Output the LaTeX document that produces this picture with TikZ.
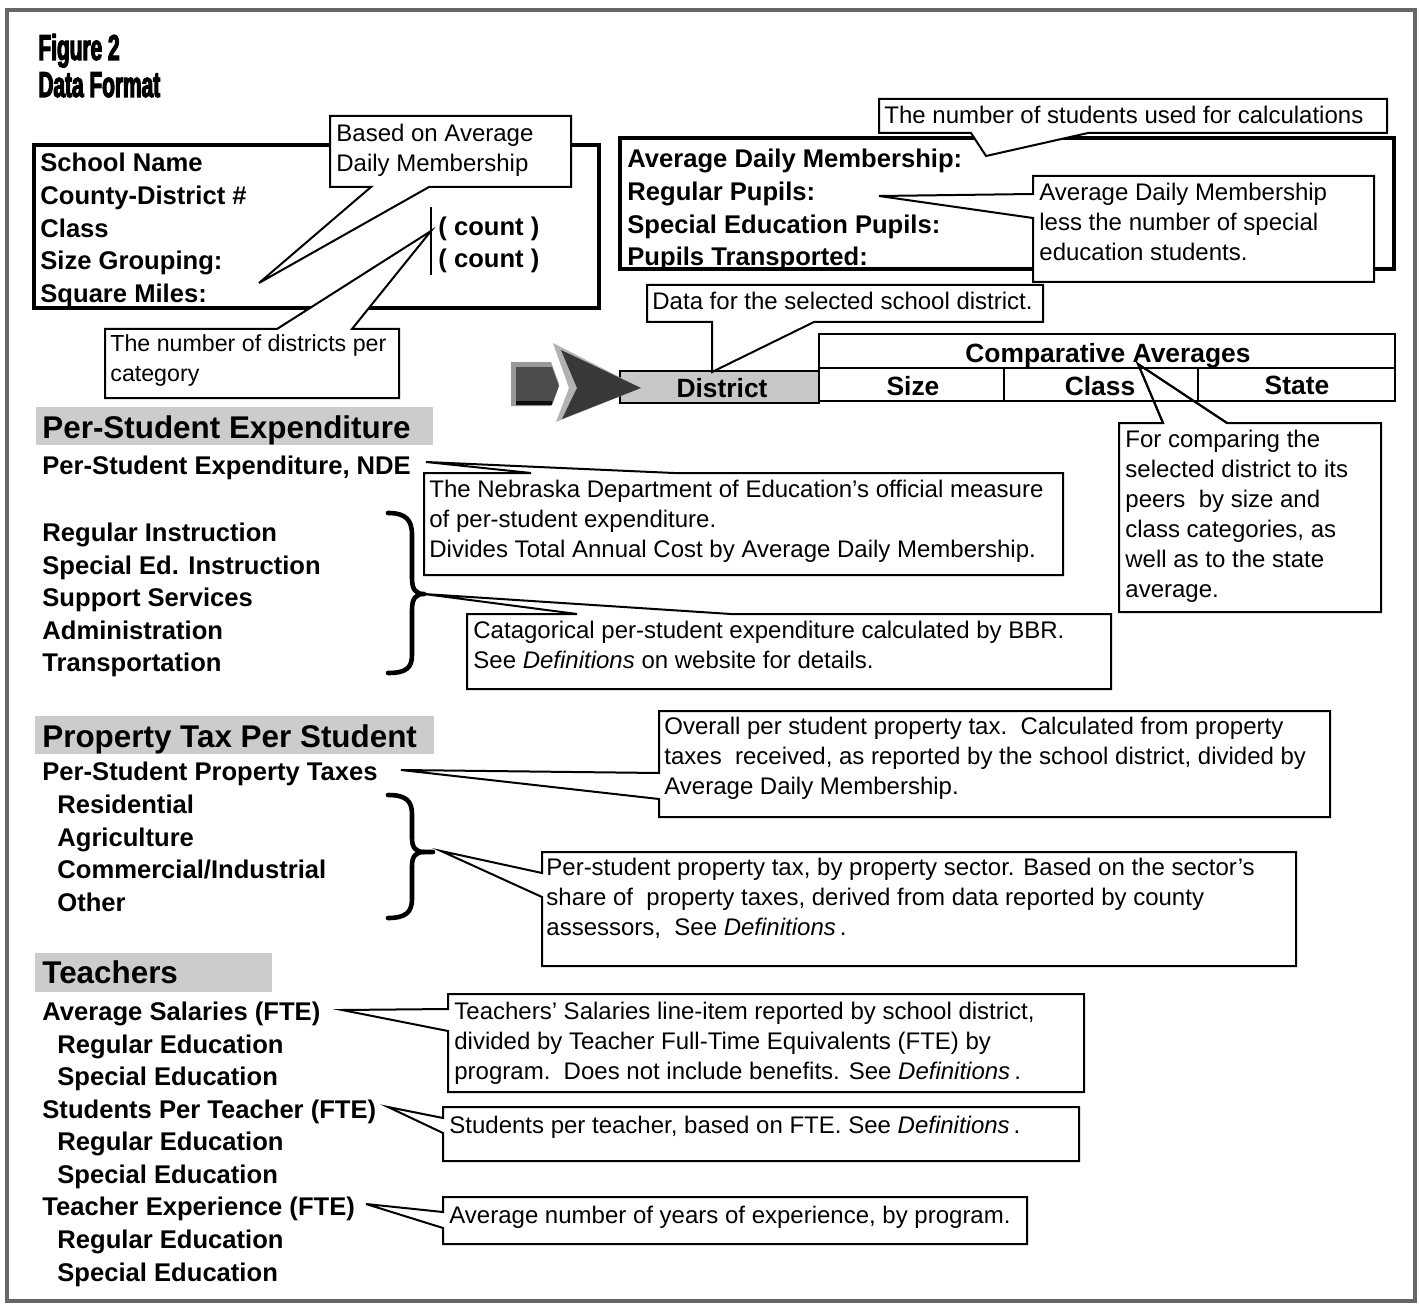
\documentclass[tikz,border=0pt]{standalone}
\usepackage{fontspec}
\setmainfont{Liberation Sans}
\newfontfamily\titlefont[FakeStretch=0.58,FakeBold=3]{Liberation Sans Bold}
\begin{document}
\begin{tikzpicture}[x=0.5pt,y=-0.5pt,
  cbox/.style={draw=black, fill=white, line width=1pt, line join=miter},
  ctext/.style={anchor=north west, inner sep=0pt, align=left, font=\fontsize{12}{15}\selectfont},
  btext/.style={anchor=base west, inner sep=0pt, font=\fontsize{12.8}{16}\selectfont\bfseries},
  ttext/.style={anchor=base, inner sep=0pt, font=\fontsize{13.2}{16}\selectfont\bfseries},
  hband/.style={fill=black!20, draw=none},
  htext/.style={anchor=base west, inner sep=0pt, font=\fontsize{15.7}{18}\selectfont\bfseries},
  ttl/.style={anchor=base west, inner sep=0pt, font=\fontsize{18}{20}\selectfont\titlefont},
  mainbox/.style={draw=black, fill=white, line width=1.9pt},
  grid/.style={draw=black, line width=1pt},
  bracestyle/.style={line width=2.3pt, line cap=round, line join=round}]
\useasboundingbox (0,0) rectangle (1419,1305);
\fill[white] (0,0) rectangle (1419,1305);
% outer frame
\draw[black!60, line width=2pt] (7,10) rectangle (1415,1301);

% title
\node[ttl] (t1) at (38,60) {Figure 2};
\node[ttl] (t2) at (38,97) {Data Format};

% box 1
\draw[mainbox] (34,145) rectangle (599,308);
\node[btext] (b1a) at (40,172) {School Name};
\node[btext] (b1b) at (40,205) {County-District \#};
\node[btext] (b1c) at (40,238) {Class};
\node[btext] (b1d) at (40,270) {Size Grouping:};
\node[btext] (b1e) at (40,303) {Square Miles:};
\node[btext] (cnt1) at (438,236) {( count )};
\node[btext] (cnt2) at (438,268) {( count )};
\coordinate (bar1) at (431,207);
\coordinate (bar2) at (431,275);
\draw[line width=1.1pt] (bar1) -- (bar2);

% box 2
\draw[mainbox] (620,138) rectangle (1394,269);
\node[btext] (b2a) at (627,168) {Average Daily Membership:};
\node[btext] (b2b) at (627,201) {Regular Pupils:};
\node[btext] (b2c) at (627,234) {Special Education Pupils:};
\node[btext] (b2d) at (627,266) {Pupils Transported:};

% callout: Based on Average Daily Membership
\coordinate (tipadm) at (259,283);
\draw[cbox] (330,116) -- (571,116) -- (571,187) -- (429,187) -- (tipadm) -- (371,187) -- (330,187) -- cycle;
\node[ctext] (cadm) at (336,124) {Based on Average\\Daily Membership};

% callout: number of districts per category
\coordinate (tipnd) at (431,231);
\draw[cbox] (105,329) -- (277,329) -- (tipnd) -- (352,329) -- (399,329) -- (399,398) -- (105,398) -- cycle;
\node[ctext, font=\fontsize{11.6}{15}\selectfont] (cnd) at (110,334) {The number of districts per\\category};

% callout: number of students
\coordinate (tipns) at (986,156);
\draw[cbox] (879,99) -- (1387,99) -- (1387,133) -- (1088,133) -- (tipns) -- (971,133) -- (879,133) -- cycle;
\node[ctext] (cns) at (884,106) {The number of students used for calculations};

% callout: ADM less special ed
\coordinate (tipless) at (879,196);
\draw[cbox] (1033,176) -- (1374,176) -- (1374,282) -- (1033,282) -- (1033,218) -- (tipless) -- (1033,194) -- cycle;
\node[ctext] (cless) at (1039,183) {Average Daily Membership\\less the number of special\\education students.};

% callout: comparing
\coordinate (tipcomp) at (1138,364);
\draw[cbox] (1119,423) -- (1163,423) -- (tipcomp) -- (1227,423) -- (1381,423) -- (1381,612) -- (1119,612) -- cycle;
\node[ctext] (ccomp) at (1125,430) {For comparing the\\selected district to its\\peers\ \ by size and\\class categories, as\\well as to the state\\average.};

% table
\fill[black!22] (620,371) rectangle (819,403);
\draw[grid] (620,371) rectangle (819,403);
\draw[grid] (819,334) rectangle (1395,368);
\draw[grid] (819,368) rectangle (1004,401);
\draw[grid] (1004,368) rectangle (1198,401);
\draw[grid] (1198,368) rectangle (1395,401);
\node[ttext] (tdist) at (722,397) {District};
\node[ttext] (tcomp) at (1108,362) {Comparative Averages};
\node[ttext] (tsize) at (913,395) {Size};
\node[ttext] (tclass) at (1100,395) {Class};
\node[ttext] (tstate) at (1297,394) {State};
% comparison pointer lines redrawn over table
\draw[line width=1pt] (1163,423) -- (tipcomp) -- (1227,423);

% chevrons
\fill[black!40] (511,362) -- (551,362) -- (559,384) -- (551,406) -- (511,406) -- cycle;
\fill[black!70] (516,367) -- (552,367) -- (559,386) -- (552,405) -- (516,405) -- cycle;
\fill[black!95] (516,401) -- (552,401) -- (552,405) -- (516,405) -- cycle;
\fill[black!30] (553,343) -- (641,388) -- (556,422) -- (569,388) -- cycle;
\fill[black!78] (561,350) -- (641,388) -- (562,419) -- (577,388) -- cycle;

% callout: data for selected district
\coordinate (tipdist) at (712,372);
\draw[cbox] (647,285) -- (1043,285) -- (1043,322) -- (814,322) -- (tipdist) -- (712,322) -- (647,322) -- cycle;
\node[ctext] (cdist) at (652,292) {Data for the selected school district.};

% ---------- Per-Student Expenditure
\fill[hband] (36,407) rectangle (433,445);
\node[htext] (h1) at (42,438) {Per-Student Expenditure};
\node[btext] (p0) at (42,474) {Per-Student Expenditure, NDE};
\node[btext] (p1) at (42,541) {Regular Instruction};
\node[btext] (p2) at (42,574) {Special Ed. Instruction};
\node[btext] (p3) at (42,606) {Support Services};
\node[btext] (p4) at (42,639) {Administration};
\node[btext] (p5) at (42,671) {Transportation};
\coordinate (br1) at (424,594);
\draw[bracestyle] (388,513) .. controls (406,513) and (412,520) .. (412,535) -- (412,578) .. controls (412,590) and (416,594) .. (br1) .. controls (416,594) and (412,598) .. (412,610) -- (412,655) .. controls (412,668) and (406,673) .. (388,673);

\coordinate (tipnde) at (426,462);
\draw[cbox] (424,473) -- (531,473) -- (tipnde) -- (674,473) -- (1063,473) -- (1063,575) -- (424,575) -- cycle;
\node[ctext] (cnde) at (429,480) {The Nebraska Department of Education’s official measure\\of per-student expenditure.\\Divides Total Annual Cost by Average Daily Membership.};

\draw[cbox] (467,614) -- (577,614) -- (br1) -- (731,614) -- (1111,614) -- (1111,689) -- (467,689) -- cycle;
\node[ctext] (ccat) at (473,621) {Catagorical per-student expenditure calculated by BBR.\\See \textit{Definitions}\ on website for details.};

% ---------- Property Tax
\fill[hband] (35,716) rectangle (434,754);
\node[htext] (h2) at (42,747) {Property Tax Per Student};
\node[btext] (q0) at (42,780) {Per-Student Property Taxes};
\node[btext] (q1) at (57,813) {Residential};
\node[btext] (q2) at (57,846) {Agriculture};
\node[btext] (q3) at (57,878) {Commercial/Industrial};
\node[btext] (q4) at (57,911) {Other};
\draw[bracestyle] (388,795) .. controls (406,795) and (412,801) .. (412,814) -- (412,838) .. controls (412,848) and (416,852) .. (424,852) -- (433,852);
\draw[bracestyle] (424,852) .. controls (416,852) and (412,856) .. (412,866) -- (412,899) .. controls (412,912) and (406,918) .. (388,918);

\coordinate (tipover) at (401,770);
\draw[cbox] (659,711) -- (1330,711) -- (1330,817) -- (659,817) -- (659,799) -- (tipover) -- (659,773) -- cycle;
\node[ctext] (cover) at (664,717) {Overall per student property tax.\ \ Calculated from property\\taxes\ \ received, as reported by the school district, divided by\\Average Daily Membership.};

\coordinate (tipsec) at (441,851);
\draw[cbox] (542,852) -- (1296,852) -- (1296,966) -- (542,966) -- (542,897) -- (tipsec) -- (542,873) -- cycle;
\node[ctext] (csec) at (546,858) {Per-student property tax, by property sector. Based on the sector’s\\share of\ \ property taxes, derived from data reported by county\\assessors,\ \ See \textit{Definitions}\,.};

% ---------- Teachers
\fill[hband] (35,953) rectangle (272,992);
\node[htext] (h3) at (42,983) {Teachers};
\node[btext] (r0) at (42,1020) {Average Salaries (FTE)};
\node[btext] (r1) at (57,1053) {Regular Education};
\node[btext] (r2) at (57,1085) {Special Education};
\node[btext] (r3) at (42,1118) {Students Per Teacher (FTE)};
\node[btext] (r4) at (57,1150) {Regular Education};
\node[btext] (r5) at (57,1183) {Special Education};
\node[btext] (r6) at (42,1215) {Teacher Experience (FTE)};
\node[btext] (r7) at (57,1248) {Regular Education};
\node[btext] (r8) at (57,1281) {Special Education};

\coordinate (tipsal) at (342,1010);
\draw[cbox] (448,994) -- (1084,994) -- (1084,1092) -- (448,1092) -- (448,1031) -- (tipsal) -- (448,1009) -- cycle;
\node[ctext] (csal) at (454,1002) {Teachers’ Salaries line-item reported by school district,\\divided by Teacher Full-Time Equivalents (FTE) by\\program.\ \ Does not include benefits. See \textit{Definitions}\,.};

\coordinate (tipspt) at (388,1107);
\draw[cbox] (443,1107) -- (1079,1107) -- (1079,1161) -- (443,1161) -- (443,1133) -- (tipspt) -- (443,1118) -- cycle;
\node[ctext] (cspt) at (449,1116) {Students per teacher, based on FTE. See \textit{Definitions}\,.};

\coordinate (tipexp) at (366,1204);
\draw[cbox] (443,1197) -- (1027,1197) -- (1027,1244) -- (443,1244) -- (443,1228) -- (tipexp) -- (443,1212) -- cycle;
\node[ctext] (cexp) at (449,1206) {Average number of years of experience, by program.};
\end{tikzpicture}
\end{document}
